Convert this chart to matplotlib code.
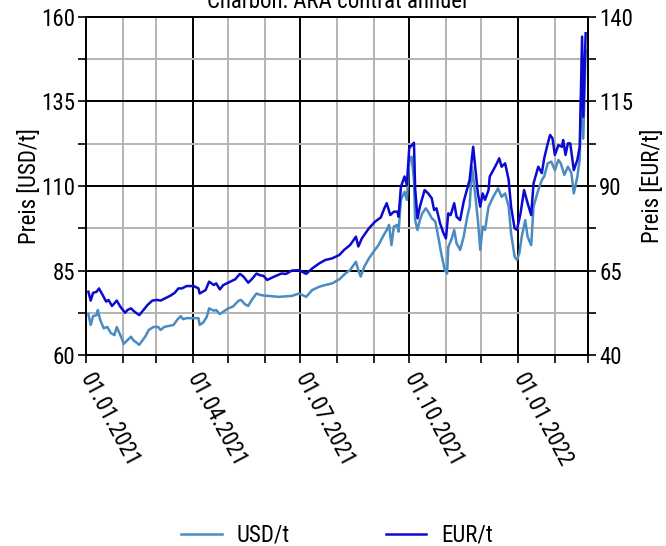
import pandas as pd
import matplotlib
matplotlib.use("Agg")
import matplotlib.pyplot as plt
import matplotlib.dates as mdates
from matplotlib import font_manager

# ------------------------------------------------------------
# Data, days since 01.01.2021
# ------------------------------------------------------------
START = pd.Timestamp("2021-01-01")
END = pd.Timestamp("2022-03-01")

usd_days = [2, 4, 6, 9, 10, 12, 15, 18, 21, 24, 26, 29, 32, 35, 38, 40, 45, 47, 50, 53,
            57, 61, 63, 66, 70, 74, 77, 80, 82, 85, 91, 95, 96, 99, 102, 104, 108, 110, 113, 116,
            120, 124, 129, 131, 134, 137, 140, 144, 147, 150, 163, 174, 180, 186, 191, 197, 202, 208, 214, 219,
            223, 228, 230, 232, 235, 239, 243, 247, 251, 254, 256, 258, 260, 263, 264, 266, 269, 271, 273, 275,
            277, 278, 280, 282, 284, 287, 289, 292, 295, 297, 300, 303, 305, 306, 309, 311, 313, 316, 319, 322,
            324, 326, 328, 331, 333, 335, 337, 340, 344, 348, 351, 354, 357, 359, 362, 364, 366, 368, 371, 373,
            376, 378, 382, 385, 387, 390, 393, 396, 399, 401, 404, 407, 410, 412, 415, 417, 419, 420, 422]
usd_vals = [72.1, 68.9, 71.5, 71.8, 73.3, 70.4, 67.9, 68.3, 66.5, 65.9, 68.3, 65.9, 63.3, 64.4, 65.4, 64.4, 63.0, 64.0, 65.4, 67.4,
            68.3, 68.3, 67.4, 68.3, 68.6, 68.9, 70.4, 71.5, 70.6, 70.9, 70.9, 70.9, 68.9, 69.6, 71.3, 73.8, 73.1, 73.3, 72.1, 72.8,
            73.8, 74.3, 76.1, 76.3, 75.1, 74.5, 76.3, 78.2, 77.8, 77.6, 77.2, 77.5, 78.2, 77.2, 79.2, 80.2, 80.7, 81.2, 82.4, 84.1,
            85.1, 87.6, 85.1, 83.2, 86.1, 88.6, 90.6, 92.5, 95.2, 97.0, 98.5, 92.5, 98.0, 98.5, 96.5, 105.9, 108.3, 105.9, 117.2, 118.7,
            111.8, 99.9, 97.0, 99.9, 101.9, 103.4, 102.4, 100.5, 99.5, 96.0, 90.1, 85.1, 84.1, 92.0, 94.5, 97.0, 93.0, 91.1, 95.0, 100.9,
            103.9, 115.7, 109.8, 99.9, 91.1, 98.0, 97.0, 103.9, 106.8, 109.3, 106.8, 107.8, 103.9, 96.0, 89.1, 88.1, 90.1, 95.0, 99.9, 95.0,
            92.5, 103.9, 108.8, 111.8, 112.8, 116.7, 117.2, 114.7, 117.7, 116.7, 113.3, 115.7, 113.8, 107.8, 112.8, 117.7, 148.0, 124.0, 150.0]

eur_days = [2, 4, 6, 9, 11, 14, 17, 19, 22, 26, 29, 33, 35, 38, 41, 45, 48, 52, 56, 60,
            63, 67, 71, 75, 78, 81, 85, 91, 95, 96, 101, 104, 108, 110, 113, 116, 122, 126, 130, 133,
            137, 140, 144, 147, 150, 153, 159, 165, 169, 174, 180, 186, 191, 197, 202, 208, 214, 218, 223, 228,
            230, 233, 239, 244, 249, 252, 254, 257, 260, 263, 264, 266, 269, 271, 273, 277, 278, 280, 282, 286,
            289, 292, 294, 296, 299, 302, 304, 306, 308, 311, 313, 316, 319, 322, 324, 327, 329, 331, 333, 335,
            337, 340, 341, 344, 347, 349, 351, 354, 357, 359, 362, 364, 367, 370, 373, 376, 378, 382, 385, 387,
            390, 392, 394, 396, 399, 402, 403, 405, 407, 409, 412, 415, 417, 419, 420, 422]
eur_vals = [58.7, 56.1, 58.4, 58.7, 59.7, 57.8, 55.8, 56.3, 54.5, 56.1, 54.3, 52.5, 53.3, 53.8, 52.8, 51.8, 53.1, 54.8, 56.1, 56.3,
            56.1, 56.8, 57.5, 58.4, 59.7, 59.7, 60.4, 60.4, 59.7, 58.2, 59.2, 61.7, 60.7, 61.2, 59.4, 60.7, 61.7, 62.4, 64.0, 63.2,
            61.4, 62.4, 64.1, 63.6, 63.4, 62.2, 63.2, 64.1, 64.0, 65.0, 65.1, 64.0, 65.6, 67.1, 68.1, 68.6, 69.6, 71.1, 72.5, 75.0,
            72.1, 74.5, 77.5, 79.4, 80.7, 83.4, 84.9, 81.4, 82.4, 82.4, 80.9, 89.8, 92.8, 90.3, 101.2, 102.8, 89.3, 80.4, 83.9, 88.8,
            87.8, 86.4, 82.9, 83.4, 79.0, 76.0, 74.5, 81.9, 81.4, 84.9, 80.9, 79.9, 85.4, 89.3, 91.8, 101.6, 94.7, 87.8, 83.9, 87.8,
            85.9, 88.8, 92.8, 94.7, 96.7, 98.2, 95.7, 96.7, 91.8, 83.9, 77.5, 77.0, 81.9, 88.8, 84.9, 81.4, 90.8, 95.7, 93.8, 98.2,
            102.6, 105.1, 104.1, 99.2, 102.1, 101.6, 103.6, 99.2, 102.6, 102.6, 94.7, 97.7, 101.6, 134.2, 110.5, 135.2]

USD_COLOR = "#4a8bc2"
EUR_COLOR = "#0a0ad0"

# ------------------------------------------------------------
# Fonts: the reference uses a narrow Arial-like face
# ------------------------------------------------------------
names = {f.name for f in font_manager.fontManager.ttflist}
NARROW = ["Liberation Sans Narrow", "Arial Narrow", "Nimbus Sans Narrow",
          "Roboto Condensed", "Archivo Narrow", "PT Sans Narrow"]
FONT = next((n for n in NARROW if n in names), "Liberation Sans")
FS = 16.5 if FONT != "Liberation Sans" else 14
plt.rcParams["font.family"] = [FONT, "DejaVu Sans"]


def _dates(days):
    return START + pd.to_timedelta(days, unit="D")


def main() -> None:
    fig = plt.figure(figsize=(6.66, 5.46), dpi=100)
    ax1 = fig.add_axes([0.1291, 0.3498, 0.7538, 0.6191])
    ax2 = ax1.twinx()

    ax1.plot(_dates(usd_days), usd_vals, color=USD_COLOR, lw=1.8, label="USD/t", zorder=3)
    ax2.plot(_dates(eur_days), eur_vals, color=EUR_COLOR, lw=1.8, label="EUR/t", zorder=3)

    ax1.set_xlim(START, END)
    ax1.set_ylim(60, 160)
    ax2.set_ylim(40, 140)
    ax1.set_yticks([60, 85, 110, 135, 160])
    ax1.set_yticks([72.5, 97.5, 122.5, 147.5], minor=True)
    ax2.set_yticks([40, 65, 90, 115, 140])
    ax2.set_yticks([52.5, 77.5, 102.5, 127.5], minor=True)

    ax1.xaxis.set_major_locator(mdates.MonthLocator(bymonth=[1, 4, 7, 10]))
    ax1.xaxis.set_minor_locator(mdates.MonthLocator())
    ax1.xaxis.set_major_formatter(mdates.DateFormatter("%d.%m.%Y"))

    ax1.grid(which="major", color="black", lw=1.4, zorder=1)
    ax1.grid(which="minor", color="#b4b4b4", lw=1.4, zorder=0)
    ax1.set_axisbelow(True)

    for ax in (ax1, ax2):
        for s in ax.spines.values():
            s.set_linewidth(1.4)
            s.set_color("black")
        ax.tick_params(which="both", direction="out", width=1.2, length=6, labelsize=FS)
    ax1.tick_params(axis="y", pad=2)
    ax2.tick_params(axis="y", pad=2)
    ax1.tick_params(axis="x", pad=8)

    for lab in ax1.get_xticklabels():
        lab.set_rotation(-62)
        lab.set_rotation_mode("anchor")
        lab.set_ha("left")
        lab.set_va("center")

    ax1.set_ylabel("Preis [USD/t]", fontsize=FS, labelpad=0)
    ax2.set_ylabel("Preis [EUR/t]", fontsize=FS, labelpad=6)

    fig.text(0.506, 1 - 8 / 546, "Charbon: ARA contrat annuel", ha="center",
             va="baseline", fontsize=FS)

    h1, l1 = ax1.get_legend_handles_labels()
    h2, l2 = ax2.get_legend_handles_labels()
    fig.legend(h1 + h2, l1 + l2, loc="center", bbox_to_anchor=(0.506, 0.02),
               ncol=2, frameon=False, fontsize=FS, handlelength=1.75,
               handletextpad=0.65, columnspacing=4.2)

    fig.savefig("out.png", dpi=100)


if __name__ == "__main__":
    main()
